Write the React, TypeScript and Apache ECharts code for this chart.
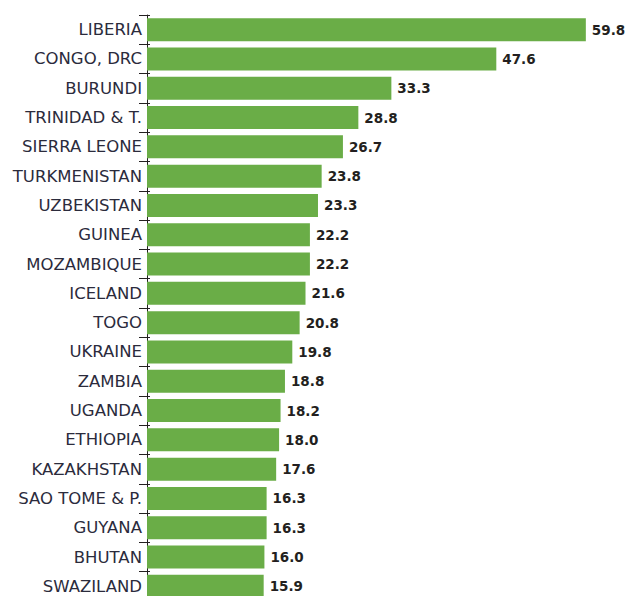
import React, { useEffect, useRef } from "react";
import * as echarts from "echarts";

const countries = [
  "LIBERIA", "CONGO, DRC", "BURUNDI", "TRINIDAD & T.", "SIERRA LEONE",
  "TURKMENISTAN", "UZBEKISTAN", "GUINEA", "MOZAMBIQUE", "ICELAND",
  "TOGO", "UKRAINE", "ZAMBIA", "UGANDA", "ETHIOPIA",
  "KAZAKHSTAN", "SAO TOME & P.", "GUYANA", "BHUTAN", "SWAZILAND",
];
const values = [
  59.8, 47.6, 33.3, 28.8, 26.7,
  23.8, 23.3, 22.2, 22.2, 21.6,
  20.8, 19.8, 18.8, 18.2, 18.0,
  17.6, 16.3, 16.3, 16.0, 15.9,
];

export default function App() {
  const ref = useRef<HTMLDivElement>(null);
  useEffect(() => {
    document.body.style.margin = "0";
    const chart = echarts.init(ref.current!, null, { renderer: "svg" });
    const font = "DejaVu Sans";
    chart.setOption({
      animation: false,
      grid: {
        left: 147, top: 15, width: 477, height: 586,
        containLabel: false, outerBoundsMode: "none",
      },
      xAxis: {
        type: "value", min: 0, max: 65, show: false,
      },
      yAxis: [
        {
          type: "category", data: countries, inverse: true,
          axisLine: { lineStyle: { color: "#231f20", width: 1 } },
          axisTick: { show: true, length: 8, lineStyle: { color: "#231f20" } },
          axisLabel: {
            margin: 5, fontFamily: font, fontSize: 16.5, color: "#2b2b3c",
          },
        },
        {
          type: "category", data: countries, inverse: true, position: "left",
          axisLine: { show: false },
          axisTick: { show: true, inside: true, length: 3, lineStyle: { color: "#231f20" } },
          axisLabel: { show: false },
        },
      ],
      series: [
        {
          type: "bar", data: values, barWidth: 23,
          itemStyle: { color: "#6aad47" },
          label: {
            show: true, position: "right", distance: 6,
            fontFamily: font, fontSize: 13.5, fontWeight: "bold", color: "#231f20",
            formatter: (p: any) => Number(p.value).toFixed(1),
          },
        },
      ],
    });
    return () => chart.dispose();
  }, []);
  return <div ref={ref} style={{ width: 626, height: 596 }} />;
}
